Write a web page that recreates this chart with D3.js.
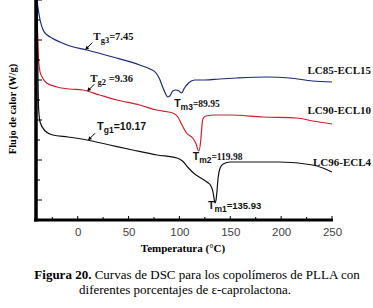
<!DOCTYPE html>
<html>
<head>
<meta charset="utf-8">
<script src="https://cdn.jsdelivr.net/npm/d3@7"></script>
<style>
  body { margin: 0; background: #fff; }
  svg { display: block; }
  .serif { font-family: 'Liberation Serif', 'Times New Roman', serif; }
  .sans { font-family: 'Liberation Sans', Arial, sans-serif; }
</style>
</head>
<body>
<div id="chart"></div>
<script>
// temperatura (°C) y flujo de calor (W/g, unidades arbitrarias)
const tempLC85 = [-40, -39, -37, -34, -30, -25.5, -17.5, -7.6, 9, 34.5, 61, 71, 77, 80.5, 83.5, 86.5, 88.5, 90.5, 93.5, 96.5, 99.5, 102, 105, 109, 115, 125, 139.5, 156.5, 186, 208.5, 231, 250];
const flujoLC85 = [11, 10.6, 10.0, 9.5, 9.25, 9.1, 8.9, 8.7, 8.5, 8.15, 7.75, 7.55, 7.35, 7.05, 6.65, 6.3, 6.15, 6.2, 6.45, 6.5, 6.45, 6.35, 6.6, 6.85, 7.0, 7.0, 7.05, 7.1, 7.15, 7.1, 6.95, 6.9];

const tempLC90 = [-40, -39.5, -38.5, -37, -35, -30.5, -20.5, -8, 5, 21.5, 38.5, 61, 77.5, 93.5, 98.5, 102, 107, 113, 116, 119, 121, 122, 123, 126, 135, 149.5, 182, 215.5, 231, 250];
const flujoLC90 = [10.5, 9.5, 8.0, 7.4, 7.15, 6.85, 6.65, 6.55, 6.5, 6.25, 6.0, 5.75, 5.5, 5.35, 5.15, 4.8, 4.35, 4.1, 3.85, 3.45, 4.0, 4.65, 5.05, 5.2, 5.25, 5.25, 5.15, 5.1, 4.95, 4.8];

const tempLC96 = [-40, -39.5, -39, -38.5, -37, -32, -24.5, -9.5, 9, 31.5, 54, 78, 97.5, 103, 108, 115, 121, 127, 131, 133, 134, 135, 136, 137, 138, 140, 143, 150, 169, 198.5, 231, 241, 250];
const flujoLC96 = [11, 9.0, 7.0, 5.65, 4.9, 4.45, 4.25, 4.15, 4.0, 3.75, 3.5, 3.25, 3.1, 2.95, 2.65, 2.3, 2.1, 1.9, 1.7, 1.4, 1.1, 0.85, 1.0, 1.5, 2.1, 2.6, 2.8, 2.9, 2.9, 2.9, 2.75, 2.6, 2.4];

const seriesNames = ["LC85-ECL15", "LC90-ECL10", "LC96-ECL4"];
const seriesColors = ["#1c2878", "#cc1f2e", "#111111"];

// anotaciones: Tg y Tm de cada copolimero
const tgValues = [7.45, 9.36, 10.17];
const tgNames = ["g3", "g2", "g1"];
const tmValues = [89.95, 119.98, 135.93];
const tmNames = ["m3", "m2", "m1"];

const xTicks = [0, 50, 100, 150, 200, 250];

const W = 373, H = 308;
const svg = d3.select("#chart").append("svg")
  .attr("width", W)
  .attr("height", H);

const x = d3.scaleLinear().domain([-41, 250]).range([36, 332]);
const y = d3.scaleLinear().domain([0, 11]).range([220, 0]);

const temps = [tempLC85, tempLC90, tempLC96];
const flujos = [flujoLC85, flujoLC90, flujoLC96];
const series = seriesNames.map((name, i) => ({
  name,
  color: seriesColors[i],
  points: temps[i].map((t, j) => ({ t, v: flujos[i][j] }))
}));

const line = d3.line()
  .x(d => x(d.t))
  .y(d => y(d.v))
  .curve(d3.curveMonotoneX);

svg.selectAll("path.curve")
  .data(series)
  .enter()
  .append("path")
  .attr("class", "curve")
  .attr("d", d => line(d.points))
  .attr("fill", "none")
  .attr("stroke", d => d.color)
  .attr("stroke-width", 1.2);

// ejes
const xAxis = svg.append("g")
  .attr("transform", `translate(0,${y(0)})`)
  .call(d3.axisBottom(x).tickValues(xTicks).tickSize(0).tickPadding(8));
xAxis.select(".domain").remove();
xAxis.attr("font-family", null);
xAxis.selectAll("text")
  .attr("class", "sans")
  .attr("font-size", 11.5)
  .attr("fill", "#444");

// marcas menores y mayores sobre el eje x
svg.append("g").selectAll("line")
  .data(d3.range(-25, 251, 25))
  .enter().append("line")
  .attr("x1", d => x(d)).attr("x2", d => x(d))
  .attr("y1", y(0)).attr("y2", d => y(0) - (d % 50 === 0 ? 4 : 3))
  .attr("stroke", "#000").attr("stroke-width", 1);

svg.append("line")
  .attr("x1", x(-41) - 2).attr("x2", x(250) + 1)
  .attr("y1", y(0)).attr("y2", y(0))
  .attr("stroke", "#000").attr("stroke-width", 3);

svg.append("g").selectAll("line")
  .data(d3.range(1, 12))
  .enter().append("line")
  .attr("x1", x(-41)).attr("x2", d => x(-41) + (d % 2 === 1 ? 6 : 4))
  .attr("y1", d => y(d)).attr("y2", d => y(d))
  .attr("stroke", "#000").attr("stroke-width", 1);

svg.append("line")
  .attr("x1", x(-41)).attr("x2", x(-41))
  .attr("y1", y(11)).attr("y2", y(0) + 1.5)
  .attr("stroke", "#000").attr("stroke-width", 3.5);

// titulos de ejes
svg.append("text")
  .attr("class", "serif")
  .attr("x", 183).attr("y", 252)
  .attr("text-anchor", "middle")
  .attr("font-weight", "bold")
  .attr("font-size", 11)
  .text("Temperatura (°C)");

svg.append("text")
  .attr("class", "serif")
  .attr("transform", "translate(16,109) rotate(-90)")
  .attr("text-anchor", "middle")
  .attr("font-weight", "bold")
  .attr("font-size", 10.5)
  .text("Flujo de calor (W/g)");

// nombres de las series
const labelDy = [-8, -10, -6];
series.forEach((s, i) => {
  const last = s.points[s.points.length - 1];
  svg.append("text")
    .attr("class", "serif")
    .attr("x", 371)
    .attr("y", y(last.v) + labelDy[i])
    .attr("text-anchor", "end")
    .attr("font-weight", "bold")
    .attr("font-size", 11)
    .attr("fill", "#111")
    .text(s.name);
});

// flechas Tg
const valueAt = (s, t) => {
  const pts = s.points;
  for (let j = 1; j < pts.length; j++) {
    if (pts[j].t >= t) {
      const a = pts[j - 1], b = pts[j];
      return a.v + (b.v - a.v) * (t - a.t) / (b.t - a.t);
    }
  }
  return pts[pts.length - 1].v;
};

const tgClass = ["serif", "serif", "sans"];
const tgText = ["=7.45", " =9.36", "=10.17"];
const tgOff = [[8, -10], [3, -9], [9, -10]];
series.forEach((s, i) => {
  const hx = x(tgValues[i]), hy = y(valueAt(s, tgValues[i]));
  svg.append("line")
    .attr("x1", hx + 1).attr("y1", hy - 1)
    .attr("x2", hx + 7).attr("y2", hy - 7)
    .attr("stroke", "#000").attr("stroke-width", 1);
  svg.append("path")
    .attr("d", `M${hx},${hy} l4,-1.2 l-2.8,-2.8 z`)
    .attr("fill", "#000");
  const t = svg.append("text")
    .attr("class", tgClass[i])
    .attr("x", hx + tgOff[i][0])
    .attr("y", hy + tgOff[i][1])
    .attr("font-weight", "bold")
    .attr("font-size", 10.5)
    .attr("fill", "#111");
  t.append("tspan").attr("font-size", 11).text("T");
  t.append("tspan").attr("font-size", 8.5).attr("dy", 3).text(tgNames[i]);
  t.append("tspan").attr("dy", -3).text(tgText[i]);
});

// etiquetas Tm
const tmOff = [[5, 10], [-7, 9], [-8, 6]];
series.forEach((s, i) => {
  const mx = x(tmValues[i]), my = y(d3.min(s.points, d => d.v));
  const t = svg.append("text")
    .attr("x", mx + tmOff[i][0])
    .attr("y", my + tmOff[i][1])
    .attr("font-weight", "bold")
    .attr("fill", "#111");
  t.append("tspan").attr("class", "sans").attr("font-size", 10.5).text("T");
  t.append("tspan").attr("class", "sans").attr("font-size", 8.5).attr("dy", 3).text(tmNames[i]);
  t.append("tspan")
    .attr("class", i === 2 ? "sans" : "serif")
    .attr("font-size", 9.5)
    .attr("dy", -3)
    .text("=" + tmValues[i].toFixed(2));
});

// pie de figura
const cap = svg.append("text")
  .attr("class", "serif")
  .attr("x", 197).attr("y", 279)
  .attr("text-anchor", "middle")
  .attr("font-size", 13)
  .attr("fill", "#000");
cap.append("tspan").attr("font-weight", "bold").text("Figura 20.");
cap.append("tspan").text(" Curvas de DSC para los copolímeros de PLLA con");

svg.append("text")
  .attr("class", "serif")
  .attr("x", 185).attr("y", 294)
  .attr("text-anchor", "middle")
  .attr("font-size", 13)
  .attr("fill", "#000")
  .text("diferentes porcentajes de ε-caprolactona.");
</script>
</body>
</html>
